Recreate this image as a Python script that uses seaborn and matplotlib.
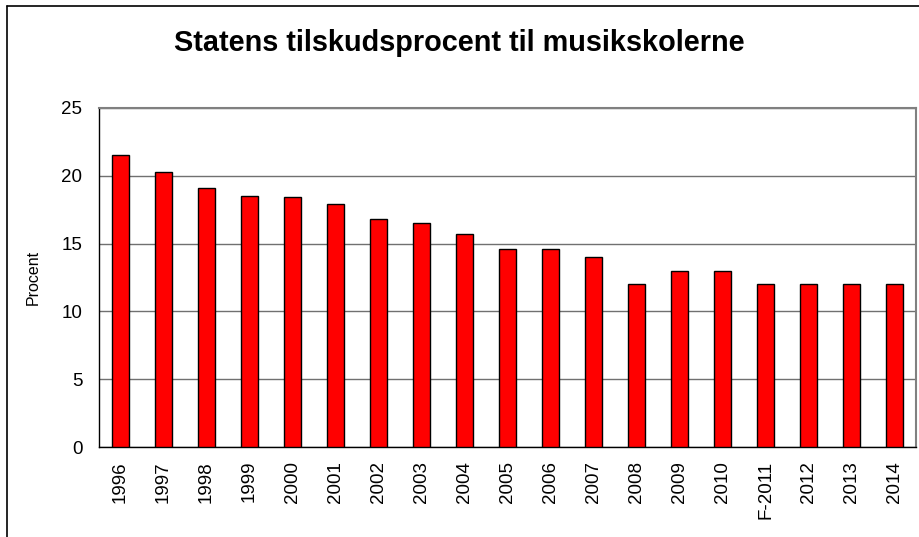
import matplotlib
matplotlib.use("Agg")
import matplotlib.pyplot as plt
from matplotlib.lines import Line2D
from matplotlib.ticker import FixedLocator
import seaborn as sns
import pandas as pd

years = ["1996", "1997", "1998", "1999", "2000", "2001", "2002", "2003", "2004",
         "2005", "2006", "2007", "2008", "2009", "2010", "F-2011", "2012", "2013", "2014"]
values = [21.5, 20.3, 19.1, 18.5, 18.4, 17.9, 16.8, 16.5, 15.7,
          14.6, 14.6, 14.0, 12.0, 13.0, 13.0, 12.0, 12.0, 12.0, 12.0]
yticks = [0, 5, 10, 15, 20, 25]

sns.set_style("white")
plt.rcParams['font.family'] = ['Liberation Sans', 'DejaVu Sans']
plt.rcParams['text.color'] = 'black'
plt.rcParams['xtick.color'] = 'black'
plt.rcParams['ytick.color'] = 'black'
plt.rcParams['axes.labelcolor'] = 'black'

df = pd.DataFrame({"year": years, "value": values})

W, H = 919, 537
fig = plt.figure(figsize=(W / 100, H / 100), dpi=100)
ax = fig.add_axes([99 / W, (H - 447) / H, (916 - 99) / W, (447 - 108) / H])

sns.barplot(data=df, x="year", y="value", order=years, color="#FF0000",
            width=0.4, edgecolor="black", linewidth=1.0, saturation=1, ax=ax, zorder=3)

ax.set_xlim(-0.5, len(years) - 0.5)
ax.set_ylim(0, 25)
ax.set_yticks(yticks)
ax.set_yticklabels([str(t) for t in yticks], fontsize=13.5)
ax.yaxis.grid(True, color="#707070", linewidth=1.0, zorder=0)
ax.set_axisbelow(True)

ax.set_xticks(range(len(years)))
ax.set_xticklabels(years, rotation=90, fontsize=13.5)
ax.tick_params(axis="x", which="major", length=0, pad=10)
ax.xaxis.set_minor_locator(FixedLocator([i - 0.5 for i in range(len(years) + 1)]))
ax.tick_params(axis="x", which="minor", length=5, width=1, color="black", direction="out")
ax.tick_params(axis="y", which="major", length=5, width=1, color="black", direction="out", pad=7)

for s in ["left", "bottom"]:
    ax.spines[s].set_color("black")
    ax.spines[s].set_linewidth(1.0)
for s in ["top", "right"]:
    ax.spines[s].set_color("#808080")
    ax.spines[s].set_linewidth(1.5)
    ax.spines[s].set_visible(True)

ax.set_xlabel("")
ax.set_ylabel("Procent", fontsize=11.5)
ax.yaxis.set_label_coords(-58 / (916 - 99), 0.5)

fig.text(459 / W, 1 - 43 / H, "Statens tilskudsprocent til musikskolerne",
         ha="center", va="center", fontsize=20.8, fontweight="bold")

# outer chart border (left and top)
fig.add_artist(Line2D([7 / W, 7 / W], [0, 1 - 6 / H], transform=fig.transFigure,
                      color="black", linewidth=1.2))
fig.add_artist(Line2D([7 / W, 1], [1 - 6 / H, 1 - 6 / H], transform=fig.transFigure,
                      color="black", linewidth=1.2))

fig.savefig("out.png", dpi=100)
